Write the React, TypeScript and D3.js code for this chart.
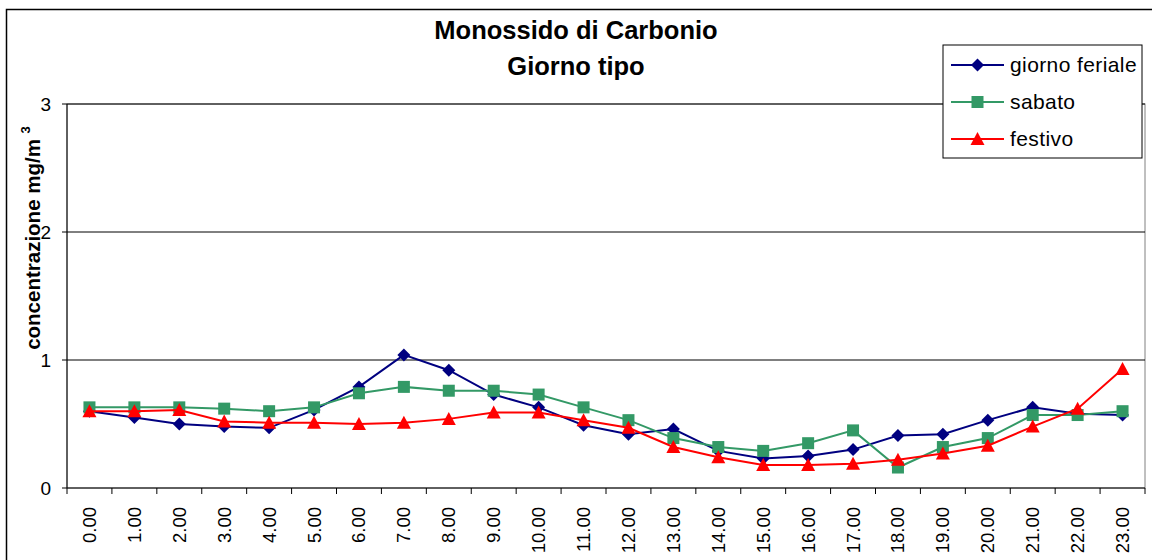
import React from "react";
import * as d3 from "d3";

const hours = ["0.00","1.00","2.00","3.00","4.00","5.00","6.00","7.00","8.00","9.00","10.00","11.00","12.00","13.00","14.00","15.00","16.00","17.00","18.00","19.00","20.00","21.00","22.00","23.00"];
const feriale = [0.60,0.55,0.50,0.48,0.47,0.61,0.79,1.04,0.92,0.73,0.63,0.49,0.42,0.46,0.29,0.23,0.25,0.30,0.41,0.42,0.53,0.63,0.58,0.57];
const sabato = [0.63,0.63,0.63,0.62,0.60,0.63,0.74,0.79,0.76,0.76,0.73,0.63,0.53,0.39,0.32,0.29,0.35,0.45,0.16,0.32,0.39,0.57,0.57,0.60];
const festivo = [0.60,0.60,0.61,0.52,0.51,0.51,0.50,0.51,0.54,0.59,0.59,0.53,0.47,0.32,0.24,0.18,0.18,0.19,0.22,0.27,0.33,0.48,0.62,0.93];
const yTicks = [0,1,2,3];
const seriesNames = ["giorno feriale","sabato","festivo"];

const FONT = "Arial, 'Liberation Sans', Helvetica, sans-serif";

function Marker({ kind, cx, cy, color }: { kind: string; cx: number; cy: number; color: string }) {
  if (kind === "diamond") {
    const r = 6.5;
    return <path d={`M${cx},${cy - r}L${cx + r},${cy}L${cx},${cy + r}L${cx - r},${cy}Z`} fill={color} />;
  }
  if (kind === "square") {
    const r = 6;
    return <rect x={cx - r} y={cy - r} width={2 * r} height={2 * r} fill={color} />;
  }
  const w = 7, h = 12;
  return <path d={`M${cx},${cy - h / 2 - 1}L${cx + w},${cy + h / 2}L${cx - w},${cy + h / 2}Z`} fill={color} />;
}

export default function App() {
  const left = 67, right = 1145, top = 104, bottom = 488;
  const x = d3.scaleBand<string>().domain(hours).range([left, right]).padding(0);
  const y = d3.scaleLinear().domain([0, 3]).range([bottom, top]);
  const cx = (h: string) => (x(h) as number) + x.bandwidth() / 2;

  const series = [
    { name: seriesNames[0], values: feriale, color: "#000080", kind: "diamond" },
    { name: seriesNames[1], values: sabato, color: "#339966", kind: "square" },
    { name: seriesNames[2], values: festivo, color: "#FF0000", kind: "triangle" },
  ];

  const line = d3.line<number>().x((_, i) => cx(hours[i])).y((d) => y(d));

  const legX = 943, legY = 45, legW = 199, legH = 113;
  const rowY = [65, 102, 139];

  return (
    <svg width={1152} height={560} style={{ position: "absolute", left: 0, top: 0, background: "#fff" }} fontFamily={FONT}>
      <rect x={0} y={0} width={1152} height={560} fill="#fff" />
      {/* outer chart border */}
      <rect x={6.5} y={9.5} width={1200} height={600} fill="none" stroke="#000" strokeWidth={1.5} />
      {/* title */}
      <text x={576} y={39} textAnchor="middle" fontSize={25.5} fontWeight="bold">Monossido di Carbonio</text>
      <text x={576} y={75} textAnchor="middle" fontSize={25.5} fontWeight="bold">Giorno tipo</text>

      {/* plot area */}
      <rect x={left} y={top} width={right - left} height={bottom - top} fill="none" stroke="#808080" strokeWidth={1} />
      {yTicks.filter((t) => t > 0).map((t) => (
        <line key={t} x1={left} x2={right} y1={y(t)} y2={y(t)} stroke="#000" strokeWidth={1} />
      ))}

      {/* y axis */}
      <line x1={left} x2={left} y1={top} y2={bottom} stroke="#000" strokeWidth={1} />
      {yTicks.map((t) => (
        <g key={t}>
          <line x1={left - 5} x2={left} y1={y(t)} y2={y(t)} stroke="#000" />
          <text x={51} y={y(t)} dy="0.35em" textAnchor="end" fontSize={19}>{t}</text>
        </g>
      ))}
      <text transform={`translate(40,238) rotate(-90)`} textAnchor="middle" fontSize={20.5} fontWeight="bold">
        concentrazione mg/m <tspan fontSize={13} dy={-10}>3</tspan>
      </text>

      {/* x axis */}
      <line x1={left} x2={right} y1={bottom} y2={bottom} stroke="#000" strokeWidth={1} />
      {hours.map((h) => (
        <line key={"t" + h} x1={x(h) as number} x2={x(h) as number} y1={bottom} y2={bottom + 6} stroke="#000" />
      ))}
      <line x1={right} x2={right} y1={bottom} y2={bottom + 6} stroke="#000" />
      {hours.map((h) => (
        <text key={"l" + h} transform={`translate(${cx(h)},507) rotate(-90)`} dy="0.35em" textAnchor="end" fontSize={18.5}>{h}</text>
      ))}

      {/* series */}
      {series.map((s) => (
        <g key={s.name}>
          <path d={line(s.values) as string} fill="none" stroke={s.color} strokeWidth={2} />
          {s.values.map((v, i) => (
            <Marker key={i} kind={s.kind} cx={cx(hours[i])} cy={y(v)} color={s.color} />
          ))}
        </g>
      ))}

      {/* legend */}
      <rect x={legX} y={legY} width={legW} height={legH} fill="#fff" stroke="#000" strokeWidth={1} />
      {series.map((s, i) => (
        <g key={"leg" + s.name}>
          <line x1={951} x2={1004} y1={rowY[i]} y2={rowY[i]} stroke={s.color} strokeWidth={2} />
          <Marker kind={s.kind} cx={977.5} cy={rowY[i]} color={s.color} />
          <text x={1010} y={rowY[i]} dy="0.35em" fontSize={21} letterSpacing={0.4}>{s.name}</text>
        </g>
      ))}
    </svg>
  );
}
